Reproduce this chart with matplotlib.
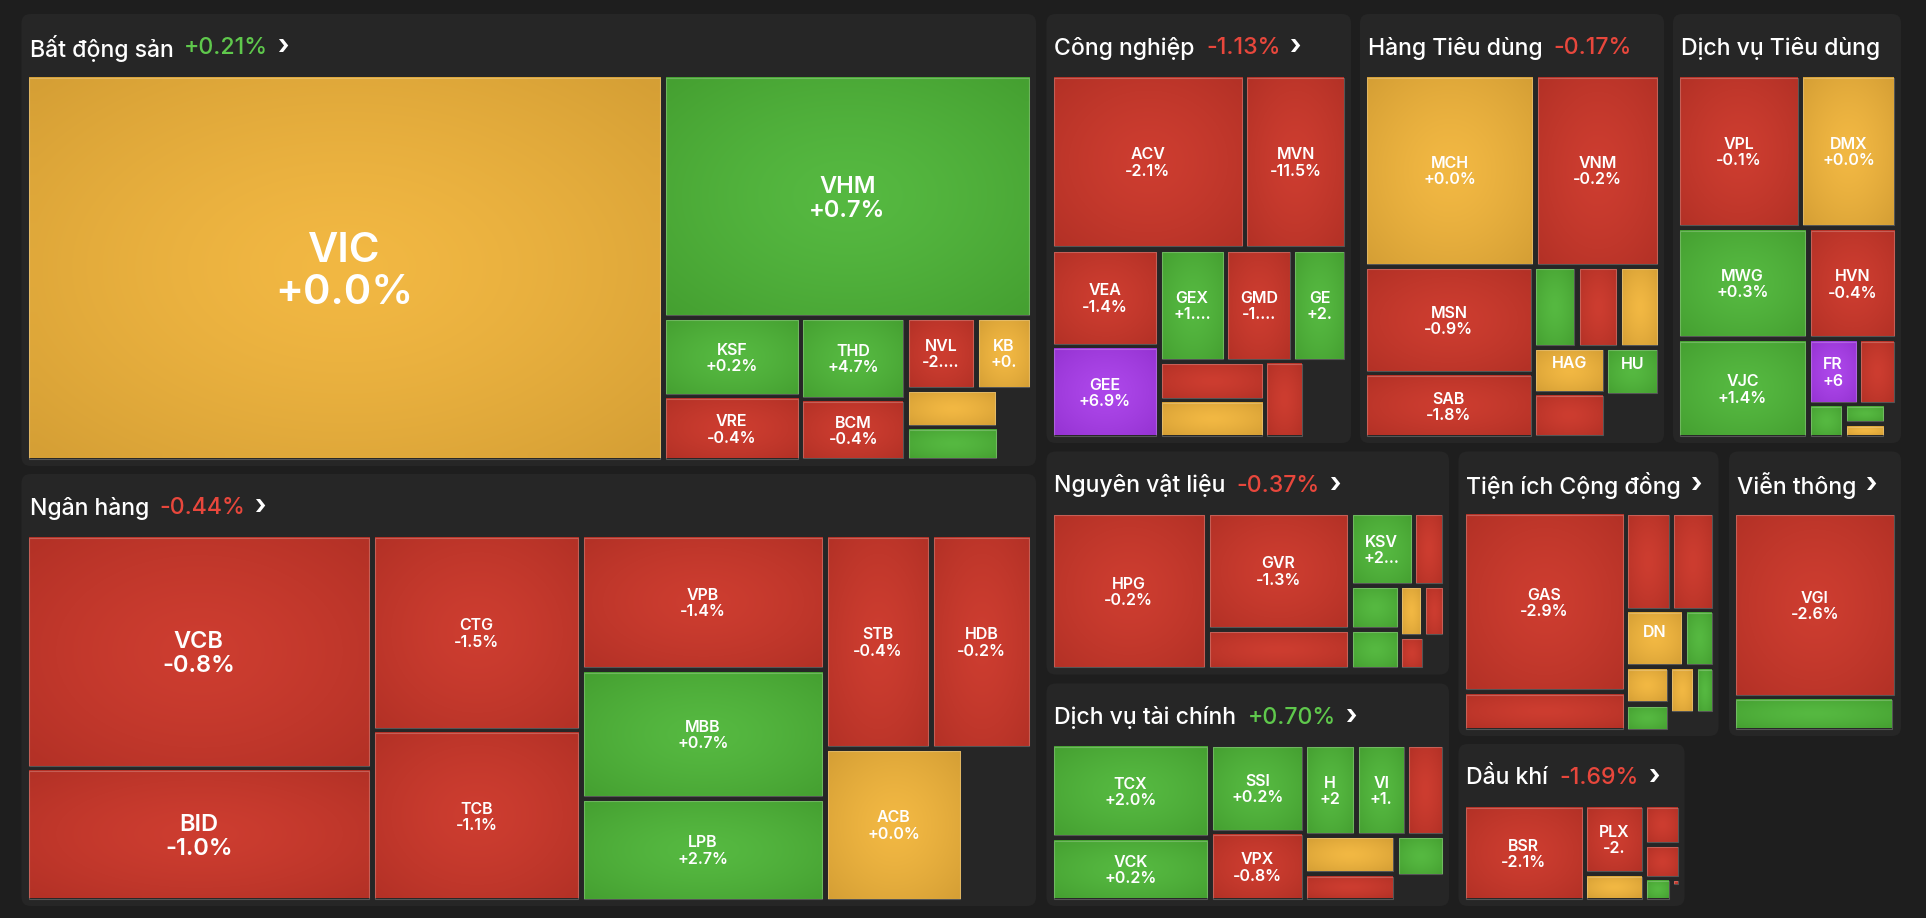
import numpy as np
import matplotlib.pyplot as plt
from matplotlib.patches import FancyBboxPatch, Rectangle
from matplotlib.colors import to_rgb

# ---- data: weight of each tile (relative market cap) and % change ----
# "" = tile too small to carry a label, None = empty slot of the treemap
bds_tickers = ["VIC", "VHM", "KSF", "VRE", "THD", "BCM", "NVL", "KB", "", None, "", None]
bds_caps = [2454, 892, 108, 89, 86, 65, 50, 40, 35, 13, 31, 11]
bds_changes = [0.0, 0.7, 0.2, -0.4, 4.7, -0.4, -2.4, 0.0, 0.0, None, 0.5, None]

nh_tickers = ["VCB", "BID", "CTG", "TCB", "VPB", "MBB", "LPB", "STB", "HDB", "ACB", None]
nh_caps = [807, 459, 409, 356, 329, 313, 250, 226, 215, 210, 105]
nh_changes = [-0.8, -1.0, -1.5, -1.1, -1.4, 0.7, 2.7, -0.4, -0.2, 0.0, None]

cn_tickers = ["ACV", "MVN", "VEA", "GEE", "GEX", "GMD", "GE", "", "", "", None]
cn_caps = [337, 178, 105, 99, 75, 75, 61, 41, 40, 31, 32]
cn_changes = [-2.1, -11.5, -1.4, 6.9, 1.5, -1.2, 2.1, -0.8, 0.0, -1.0, None]

htd_tickers = ["MCH", "VNM", "MSN", "SAB", "", "", "", "HAG", "", "HU", None]
htd_caps = [326, 238, 181, 109, 35, 34, 33, 33, 32, 26, 23]
htd_changes = [0.0, -0.2, -0.9, -1.8, 0.4, -0.6, 0.0, 0.0, -0.9, 1.0, None]

dvtd_tickers = ["VPL", "DMX", "MWG", "VJC", "HVN", "FR", "", "", "", "", None]
dvtd_caps = [188, 147, 144, 129, 98, 33, 25, 12, 8.2, 5.9, 3.6]
dvtd_changes = [-0.1, 0.0, 0.3, 1.4, -0.4, 6.9, -0.5, 0.6, 0.3, 0.0, None]

nvl_tickers = ["HPG", "GVR", "", "KSV", "", "", "", "", "", "", None]
nvl_caps = [247, 168, 58, 47, 23, 22, 20, 12, 11, 8.4, 6.7]
nvl_changes = [-0.2, -1.3, -0.5, 2.3, -1.2, 0.8, 0.4, 0.0, -0.7, -0.9, None]

dvtc_tickers = ["TCX", "VCK", "SSI", "VPX", "H", "VI", "", "", "", "", None]
dvtc_caps = [149, 101, 83, 65, 47, 46, 35, 35, 25, 20, 12]
dvtc_changes = [2.0, 0.2, 0.2, -0.8, 2.1, 1.6, -0.7, 0.0, -0.5, 0.9, None]

ti_tickers = ["GAS", "", "", "", "DN", "", "", "", "", "", None]
ti_caps = [291, 64, 45, 42, 33, 17, 16, 12, 12, 9, 7.6]
ti_changes = [-2.9, -0.6, -1.1, -0.8, 0.0, 0.5, 0.0, 0.7, 0.0, 1.2, None]

vt_tickers = ["VGI", "", None]
vt_caps = [303, 54, 0.8]
vt_changes = [-2.6, 0.4, None]

dk_tickers = ["BSR", "PLX", "", "", "", "", "", None]
dk_caps = [116, 41, 16, 14, 12, 6, 0.7, 1.3]
dk_changes = [-2.1, -2.2, 0.0, -0.9, -1.3, 0.6, -0.5, None]

# labels cut by the tile width in the original picture
clipped_pct = {"NVL": "-2....", "KB": "+0.", "GEX": "+1....", "GMD": "-1....",
               "GE": "+2.", "KSV": "+2...", "H": "+2", "VI": "+1.", "FR": "+6",
               "PLX": "-2."}

sector_names = ["Bất động sản", "Ngân hàng", "Công nghiệp", "Hàng Tiêu dùng",
                "Dịch vụ Tiêu dùng", "Nguyên vật liệu", "Dịch vụ tài chính",
                "Tiện ích Cộng đồng", "Viễn thông", "Dầu khí"]
sector_changes = [0.21, -0.44, -1.13, -0.17, None, -0.37, 0.70, None, None, -1.69]
sector_chevron = [True, True, True, False, False, True, True, True, True, True]

# ---- treemap split structure ('h' = side by side, 'v' = stacked) ----
bds_tree = ('h', [0, ('v', [1, ('h', [('v', [2, 3]), ('v', [4, 5]),
                                      ('v', [('h', [6, 7]), ('h', [8, 9]), ('h', [10, 11])])])])])
nh_tree = ('h', [('v', [0, 1]), ('v', [2, 3]), ('v', [4, 5, 6]),
                 ('v', [('h', [7, 8]), ('h', [9, 10])])])
cn_tree = ('v', [('h', [0, 1]), ('h', [('v', [2, 3]),
                                       ('v', [('h', [4, 5, 6]), ('h', [('v', [7, 8]), 9, 10])])])])
htd_tree = ('v', [('h', [0, 1]), ('h', [('v', [2, 3]),
                                        ('v', [('h', [4, 5, 6]), ('h', [('v', [7, 8]), ('v', [9, 10])])])])])
dvtd_tree = ('v', [('h', [0, 1]), ('h', [('v', [2, 3]),
                                         ('v', [4, ('v', [('h', [5, 6]), ('h', [7, ('v', [8, 9]), 10])])])])])
nvl_tree = ('h', [0, ('v', [1, 2]), ('v', [('h', [3, 4]),
                                           ('h', [('v', [5, 6]), ('v', [('h', [7, 8]), ('h', [9, 10])])])])])
dvtc_tree = ('h', [('v', [0, 1]), ('v', [2, 3]),
                   ('v', [('h', [4, 5, 6]), ('h', [('v', [7, 8]), ('v', [9, 10])])])])
ti_tree = ('h', [('v', [0, 1]), ('v', [('h', [2, 3]), ('h', [4, 5]),
                                       ('h', [('v', [6, 7]), ('v', [('h', [8, 9]), 10])])])])
vt_tree = ('v', [0, ('h', [1, 2])])
dk_tree = ('h', [0, ('v', [1, 2]), ('v', [3, 4, ('h', [5, ('v', [6, 7])])])])

sectors = [
    (bds_tickers, bds_caps, bds_changes, bds_tree),
    (nh_tickers, nh_caps, nh_changes, nh_tree),
    (cn_tickers, cn_caps, cn_changes, cn_tree),
    (htd_tickers, htd_caps, htd_changes, htd_tree),
    (dvtd_tickers, dvtd_caps, dvtd_changes, dvtd_tree),
    (nvl_tickers, nvl_caps, nvl_changes, nvl_tree),
    (dvtc_tickers, dvtc_caps, dvtc_changes, dvtc_tree),
    (ti_tickers, ti_caps, ti_changes, ti_tree),
    (vt_tickers, vt_caps, vt_changes, vt_tree),
    (dk_tickers, dk_caps, dk_changes, dk_tree),
]

# panel boxes (x0, y0, x1, y1) in pixels of the 1926x918 canvas
panel_boxes = [(21.5, 14, 1036, 466), (21.5, 474, 1036, 906),
               (1046.5, 14, 1351, 443), (1360, 14, 1664, 443), (1673, 14, 1901, 443),
               (1046.5, 451.5, 1449, 674.5), (1046.5, 683.5, 1449, 906),
               (1458.5, 451.5, 1718.5, 736), (1729, 451.5, 1901, 736),
               (1458.5, 744, 1684.5, 906)]

BG = "#1e1e1e"
PANEL = "#262626"
GAP = 5.5
FONT = ["Inter", "DejaVu Sans"]
palette = {
    "green": ("#56b941", "#45a031"),
    "red": ("#cd3d30", "#b33126"),
    "yellow": ("#f2b843", "#d59f35"),
    "purple": ("#ad47ea", "#9533d2"),
}
HEAD_GREEN = "#5fc84c"
HEAD_RED = "#e8473c"


def kind(ch):
    if ch >= 6.5:
        return "purple"
    if ch > 0:
        return "green"
    if ch < 0:
        return "red"
    return "yellow"


def node_sum(node, caps):
    if isinstance(node, int):
        return caps[node]
    return sum(node_sum(k, caps) for k in node[1])


def split(node, caps, x0, y0, x1, y1, out):
    if isinstance(node, int):
        out[node] = (x0, y0, x1, y1)
        return
    d, kids = node
    total = node_sum(node, caps)
    pos = x0 if d == 'h' else y0
    for k in kids:
        frac = node_sum(k, caps) / total
        if d == 'h':
            w = (x1 - x0) * frac
            split(k, caps, pos, y0, pos + w, y1, out)
        else:
            w = (y1 - y0) * frac
            split(k, caps, x0, pos, x1, pos + w, out)
        pos += w


# radial shading of one tile
n = 40
gx, gy = np.meshgrid(np.linspace(-1, 1, n), np.linspace(-1, 1, n))
rr = np.clip(np.sqrt(gx ** 2 + gy ** 2) / np.sqrt(2), 0, 1) ** 1.4


def shade(kind_name):
    c0 = np.array(to_rgb(palette[kind_name][0]))
    c1 = np.array(to_rgb(palette[kind_name][1]))
    return c0[None, None, :] + (c1 - c0)[None, None, :] * rr[:, :, None]


fig = plt.figure(figsize=(19.26, 9.18), dpi=100)
fig.patch.set_facecolor(BG)
ax = fig.add_axes([0, 0, 1, 1])
ax.set_xlim(0, 1926)
ax.set_ylim(918, 0)
ax.axis("off")
renderer = fig.canvas.get_renderer()

for si, (tickers, caps, changes, tree) in enumerate(sectors):
    px0, py0, px1, py1 = panel_boxes[si]
    ax.add_patch(FancyBboxPatch((px0, py0), px1 - px0, py1 - py0,
                                boxstyle="round,pad=0,rounding_size=9",
                                fc=PANEL, ec="none", zorder=1))

    # header: name, sector change, chevron
    hy = py0 + 34
    t = ax.text(px0 + 8, hy, sector_names[si], color="white", fontsize=16.6,
                fontweight="medium", family=FONT, va="center", ha="left", zorder=5)
    xe = ax.transData.inverted().transform(t.get_window_extent(renderer))[1][0]
    if sector_changes[si] is not None:
        col = HEAD_GREEN if sector_changes[si] > 0 else HEAD_RED
        t = ax.text(xe + 11, hy, f"{sector_changes[si]:+.2f}%", color=col, fontsize=16.6,
                    fontweight="medium", family=FONT, va="center", ha="left", zorder=5)
        xe = ax.transData.inverted().transform(t.get_window_extent(renderer))[1][0]
    if sector_chevron[si]:
        ax.text(xe + 9, hy - 1, "›", color="white", fontsize=19, fontweight="bold",
                family=FONT, va="center", ha="left", zorder=5)

    # tiles
    rects = {}
    h = GAP / 2
    split(tree, caps, px0 + 7 - h, py0 + 63.5 - h, px1 - 7 + h, py1 - 7.5 + h, rects)
    for i, (x0, y0, x1, y1) in rects.items():
        if tickers[i] is None:
            continue
        x0, y0, x1, y1 = x0 + h, y0 + h, x1 - h, y1 - h
        w, hh = x1 - x0, y1 - y0
        ax.imshow(shade(kind(changes[i])), extent=(x0, x1, y1, y0), aspect="auto",
                  interpolation="bilinear", zorder=2)
        ax.add_patch(Rectangle((x0, y0), w, hh, fc="none", ec=(1, 1, 1, 0.22),
                               lw=0.8, zorder=3))
        if not tickers[i] or w < 40 or hh < 38:
            continue
        area = w * hh
        fs = 30 if area > 150000 else (17 if area > 40000 else 11.5)
        off = 0.71 * fs
        cap = 0.36 * fs * 100 / 72   # half the cap height in pixels
        cx, cy = (x0 + x1) / 2, (y0 + y1) / 2
        ax.text(cx, cy - off + cap, tickers[i], color="white", fontsize=fs,
                fontweight="semibold", family=FONT, ha="center", va="baseline", zorder=4)
        if hh >= 55:
            pct = clipped_pct.get(tickers[i], f"{changes[i]:+.1f}%")
            ax.text(cx, cy + off + cap, pct, color="white", fontsize=fs,
                    fontweight="semibold", family=FONT, ha="center", va="baseline", zorder=4)

ax.set_xlim(0, 1926)
ax.set_ylim(918, 0)
fig.savefig("out.png", dpi=100, facecolor=BG)
